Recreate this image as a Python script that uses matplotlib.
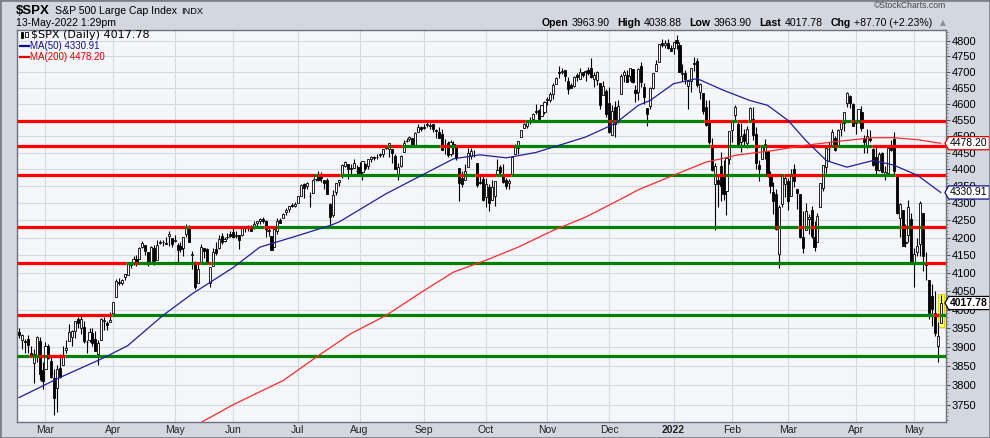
import matplotlib
matplotlib.use('Agg')
import matplotlib.pyplot as plt
import numpy as np
import pandas as pd
from matplotlib.path import Path
from matplotlib.patches import Rectangle
from matplotlib.lines import Line2D
from matplotlib.offsetbox import TextArea, HPacker, AnnotationBbox
from matplotlib.ticker import FixedLocator, NullFormatter, FuncFormatter

# daily OHLC for $SPX, 16-Feb-2021 .. 13-May-2022 (one row per month)
opens = [
    3939, 3918, 3915, 3921, 3885, 3857, 3873, 3915, 3839,
    3842, 3903, 3863, 3818, 3793, 3844, 3851, 3891, 3916, 3925, 3942, 3974, 3949, 3953, 3913, 3917, 3938, 3920, 3880, 3917, 3969, 3963, 3967,
    3992, 4034, 4075, 4074, 4090, 4096, 4124, 4130, 4141, 4140, 4174, 4179, 4159, 4128, 4170, 4138, 4185, 4188, 4185, 4206, 4199,
    4191, 4180, 4177, 4170, 4210, 4228, 4150, 4130, 4074, 4130, 4170, 4169, 4074, 4121, 4169, 4170, 4205, 4191, 4201, 4210,
    4216, 4206, 4207, 4207, 4229, 4234, 4233, 4229, 4243, 4249, 4255, 4249, 4220, 4204, 4173, 4219, 4250, 4256, 4274, 4284, 4293, 4290,
    4300, 4322, 4356, 4351, 4321, 4330, 4372, 4381, 4381, 4369, 4367, 4297, 4266, 4331, 4361, 4381, 4409, 4416, 4402, 4404, 4396,
    4407, 4392, 4416, 4408, 4429, 4438, 4435, 4442, 4446, 4464, 4461, 4462, 4441, 4382, 4410, 4451, 4484, 4490, 4493, 4474, 4513, 4529,
    4529, 4534, 4532, 4536, 4518, 4513, 4506, 4474, 4479, 4447, 4477, 4470, 4402, 4374, 4367, 4406, 4439, 4442, 4419, 4362, 4370,
    4317, 4348, 4310, 4320, 4383, 4406, 4385, 4368, 4358, 4386, 4447, 4464, 4497, 4524, 4532, 4547, 4553, 4578, 4580, 4562, 4573,
    4610, 4613, 4630, 4662, 4699, 4701, 4707, 4670, 4659, 4655, 4689, 4679, 4701, 4700, 4708, 4712, 4679, 4675, 4664, 4628, 4640,
    4602, 4504, 4589, 4548, 4631, 4690, 4691, 4688, 4711, 4643, 4636, 4719, 4653, 4588, 4594, 4650, 4703, 4733, 4795, 4788, 4795, 4776,
    4778, 4804, 4788, 4694, 4698, 4655, 4670, 4729, 4734, 4637, 4632, 4589, 4548, 4471, 4357, 4367, 4408, 4380, 4336, 4431,
    4519, 4566, 4536, 4482, 4505, 4480, 4547, 4553, 4506, 4412, 4429, 4455, 4456, 4385, 4332, 4325, 4155, 4298, 4355,
    4364, 4322, 4401, 4342, 4327, 4203, 4223, 4253, 4280, 4202, 4188, 4289, 4345, 4407, 4462, 4470, 4494, 4470, 4523, 4541, 4603, 4623, 4599,
    4540, 4547, 4573, 4495, 4474, 4494, 4462, 4437, 4398, 4449, 4386, 4390, 4473, 4490, 4385, 4256, 4279, 4187, 4207, 4254,
    4131, 4159, 4181, 4271, 4129, 4081, 4036, 3991, 3903, 3963.90,
]
highs = [
    3950, 3933, 3921, 3931, 3902, 3895, 3928, 3925, 3861,
    3914, 3907, 3874, 3843, 3851, 3881, 3903, 3918, 3960, 3944, 3969, 3981, 3984, 3970, 3919, 3949, 3949, 3943, 3919, 3978, 3981, 3968, 3994,
    4020, 4083, 4087, 4083, 4098, 4129, 4131, 4149, 4151, 4173, 4191, 4180, 4160, 4175, 4179, 4194, 4194, 4193, 4201, 4218, 4199,
    4209, 4186, 4187, 4202, 4238, 4237, 4163, 4135, 4131, 4183, 4171, 4170, 4117, 4172, 4188, 4209, 4214, 4203, 4213, 4219,
    4234, 4218, 4207, 4233, 4232, 4237, 4237, 4249, 4249, 4256, 4258, 4252, 4233, 4204, 4226, 4256, 4256, 4271, 4286, 4292, 4300, 4303,
    4320, 4355, 4358, 4362, 4331, 4372, 4387, 4394, 4393, 4369, 4375, 4301, 4337, 4360, 4369, 4415, 4423, 4416, 4416, 4429, 4412,
    4422, 4424, 4418, 4430, 4440, 4440, 4445, 4449, 4461, 4468, 4480, 4462, 4445, 4418, 4444, 4489, 4493, 4501, 4495, 4513, 4537, 4531,
    4537, 4545, 4541, 4536, 4521, 4529, 4521, 4492, 4485, 4487, 4486, 4471, 4403, 4394, 4416, 4465, 4463, 4457, 4419, 4385, 4382,
    4375, 4355, 4369, 4365, 4429, 4413, 4415, 4375, 4372, 4439, 4475, 4486, 4520, 4540, 4549, 4560, 4572, 4598, 4585, 4597, 4608,
    4621, 4636, 4664, 4684, 4718, 4714, 4708, 4685, 4664, 4688, 4698, 4714, 4701, 4708, 4717, 4744, 4699, 4702, 4664, 4672, 4647,
    4652, 4596, 4608, 4612, 4694, 4706, 4705, 4713, 4711, 4660, 4712, 4731, 4666, 4588, 4651, 4697, 4740, 4791, 4807, 4804, 4808, 4787,
    4797, 4819, 4797, 4726, 4708, 4674, 4714, 4749, 4745, 4666, 4632, 4612, 4611, 4495, 4418, 4379, 4453, 4428, 4432, 4516,
    4546, 4595, 4542, 4540, 4521, 4531, 4590, 4589, 4527, 4427, 4472, 4490, 4456, 4395, 4362, 4340, 4294, 4385, 4385,
    4375, 4401, 4416, 4342, 4327, 4277, 4299, 4268, 4292, 4247, 4272, 4358, 4412, 4465, 4481, 4522, 4501, 4521, 4546, 4575, 4637, 4628, 4603,
    4548, 4583, 4593, 4504, 4521, 4520, 4464, 4471, 4453, 4453, 4410, 4471, 4489, 4513, 4386, 4299, 4279, 4240, 4308, 4270,
    4170, 4200, 4307, 4271, 4158, 4082, 4069, 4050, 3965, 4038.88,
]
lows = [
    3923, 3895, 3885, 3884, 3874, 3805, 3860, 3814, 3790,
    3842, 3868, 3819, 3723, 3730, 3819, 3851, 3885, 3916, 3903, 3923, 3949, 3935, 3910, 3885, 3913, 3901, 3889, 3853, 3917, 3944, 3944, 3967,
    3992, 4034, 4068, 4068, 4082, 4095, 4114, 4124, 4120, 4139, 4170, 4150, 4119, 4126, 4123, 4138, 4182, 4176, 4181, 4176, 4174,
    4188, 4128, 4159, 4147, 4201, 4188, 4112, 4057, 4074, 4130, 4143, 4125, 4061, 4121, 4151, 4167, 4182, 4189, 4197, 4203,
    4198, 4199, 4167, 4206, 4215, 4219, 4218, 4225, 4233, 4238, 4242, 4203, 4204, 4165, 4173, 4211, 4241, 4256, 4266, 4274, 4287, 4287,
    4300, 4322, 4314, 4340, 4289, 4329, 4365, 4365, 4362, 4340, 4327, 4233, 4260, 4324, 4351, 4373, 4406, 4372, 4387, 4404, 4386,
    4381, 4368, 4398, 4400, 4422, 4426, 4430, 4436, 4436, 4460, 4437, 4418, 4400, 4368, 4406, 4451, 4482, 4486, 4468, 4473, 4513, 4515,
    4522, 4527, 4522, 4513, 4493, 4493, 4458, 4447, 4435, 4439, 4447, 4427, 4305, 4347, 4367, 4406, 4430, 4437, 4346, 4355, 4306,
    4288, 4278, 4310, 4290, 4383, 4385, 4360, 4342, 4341, 4386, 4447, 4447, 4496, 4524, 4526, 4538, 4544, 4569, 4551, 4562, 4567,
    4595, 4604, 4616, 4662, 4681, 4694, 4670, 4630, 4648, 4651, 4672, 4679, 4684, 4672, 4692, 4682, 4652, 4660, 4585, 4626, 4560,
    4510, 4504, 4496, 4540, 4631, 4667, 4667, 4671, 4666, 4606, 4612, 4651, 4600, 4531, 4583, 4645, 4703, 4733, 4780, 4778, 4775, 4766,
    4758, 4774, 4700, 4671, 4663, 4582, 4638, 4703, 4651, 4615, 4568, 4530, 4477, 4396, 4222, 4287, 4305, 4309, 4265, 4415,
    4483, 4545, 4470, 4451, 4471, 4465, 4547, 4489, 4401, 4365, 4429, 4430, 4377, 4328, 4267, 4223, 4114, 4287, 4318,
    4279, 4322, 4346, 4284, 4199, 4157, 4223, 4210, 4200, 4162, 4187, 4289, 4335, 4390, 4424, 4470, 4456, 4466, 4501, 4517, 4589, 4588, 4530,
    4507, 4539, 4514, 4450, 4450, 4482, 4408, 4381, 4395, 4391, 4368, 4390, 4455, 4384, 4267, 4201, 4175, 4173, 4188, 4131,
    4063, 4147, 4148, 4107, 4082, 3975, 3956, 3928, 3859, 3963.90,
]
closes = [
    3932, 3931, 3913, 3906, 3876, 3881, 3925, 3829, 3811,
    3901, 3870, 3820, 3768, 3842, 3821, 3875, 3898, 3939, 3943, 3969, 3963, 3974, 3915, 3913, 3940, 3911, 3889, 3910, 3974, 3971, 3959, 3973,
    4020, 4078, 4074, 4080, 4097, 4129, 4128, 4141, 4125, 4170, 4185, 4163, 4135, 4173, 4135, 4180, 4187, 4187, 4183, 4211, 4181,
    4192, 4165, 4168, 4201, 4232, 4189, 4153, 4063, 4113, 4174, 4163, 4128, 4116, 4159, 4156, 4197, 4188, 4196, 4201, 4204,
    4202, 4208, 4192, 4230, 4227, 4227, 4220, 4239, 4247, 4255, 4247, 4224, 4222, 4166, 4224, 4247, 4242, 4267, 4281, 4291, 4291, 4298,
    4320, 4352, 4344, 4358, 4320, 4369, 4385, 4369, 4374, 4360, 4327, 4258, 4323, 4359, 4368, 4412, 4422, 4401, 4400, 4419, 4395,
    4387, 4423, 4403, 4429, 4437, 4432, 4436, 4447, 4460, 4468, 4480, 4448, 4400, 4406, 4441, 4479, 4486, 4497, 4470, 4509, 4529, 4523,
    4524, 4537, 4535, 4521, 4514, 4493, 4458, 4469, 4443, 4481, 4473, 4433, 4358, 4355, 4396, 4449, 4455, 4443, 4353, 4360, 4308,
    4357, 4300, 4346, 4364, 4399, 4391, 4361, 4351, 4364, 4438, 4471, 4486, 4520, 4537, 4549, 4545, 4567, 4575, 4551, 4597, 4605,
    4614, 4631, 4660, 4680, 4697, 4702, 4686, 4647, 4650, 4683, 4683, 4701, 4689, 4704, 4698, 4683, 4691, 4701, 4595, 4655, 4567,
    4513, 4577, 4538, 4592, 4686, 4701, 4668, 4712, 4669, 4634, 4709, 4669, 4620, 4568, 4649, 4697, 4725, 4791, 4786, 4793, 4778, 4766,
    4797, 4794, 4701, 4696, 4677, 4670, 4713, 4726, 4660, 4663, 4577, 4533, 4483, 4398, 4410, 4357, 4350, 4327, 4432, 4516,
    4546, 4589, 4477, 4501, 4484, 4522, 4587, 4504, 4419, 4401, 4472, 4475, 4380, 4349, 4305, 4226, 4288, 4385, 4374,
    4306, 4387, 4364, 4329, 4201, 4171, 4278, 4260, 4204, 4173, 4262, 4358, 4412, 4463, 4461, 4512, 4457, 4520, 4543, 4575, 4632, 4603, 4530,
    4546, 4583, 4525, 4481, 4500, 4488, 4413, 4397, 4447, 4392, 4392, 4463, 4459, 4394, 4272, 4297, 4175, 4184, 4288, 4132,
    4155, 4175, 4300, 4147, 4123, 3991, 4001, 3936, 3930, 4017.78,
]
holidays = ['2021-04-02', '2021-05-31', '2021-07-05', '2021-09-06', '2021-11-25',
            '2021-12-24', '2022-01-17', '2022-02-21', '2022-04-15']

# moving averages
ma50_dates = ['2021-02-16', '2021-03-08', '2021-03-26', '2021-04-09', '2021-04-27', '2021-05-11',
              '2021-06-01', '2021-06-14', '2021-07-01', '2021-07-19', '2021-07-22', '2021-08-13',
              '2021-08-31', '2021-09-16', '2021-09-29', '2021-10-12', '2021-10-26', '2021-11-05',
              '2021-11-18', '2021-12-03', '2021-12-15', '2021-12-21', '2022-01-03', '2022-01-13',
              '2022-01-27', '2022-02-09', '2022-02-17', '2022-03-01', '2022-03-09', '2022-03-18',
              '2022-03-29', '2022-04-11', '2022-04-21', '2022-05-03', '2022-05-13']
ma50_vals = [3768, 3820, 3868, 3903, 3984, 4043, 4116, 4173, 4206, 4235, 4245, 4327, 4381, 4431,
             4443, 4434, 4450, 4472, 4497, 4538, 4595, 4610, 4663, 4679, 4642, 4610, 4595, 4548,
             4487, 4426, 4406, 4426, 4412, 4382, 4331]
ma200_dates = ['2021-05-14', '2021-06-01', '2021-06-24', '2021-07-13', '2021-07-28', '2021-08-13',
               '2021-08-31', '2021-09-16', '2021-10-01', '2021-10-18', '2021-11-03', '2021-11-18',
               '2021-12-06', '2021-12-15', '2022-01-03', '2022-01-19', '2022-02-03', '2022-02-22',
               '2022-03-09', '2022-03-24', '2022-04-11', '2022-04-21', '2022-05-03', '2022-05-13']
ma200_vals = [3705, 3750, 3812, 3877, 3935, 3984, 4047, 4103, 4136, 4173, 4221, 4259, 4307, 4339,
              4382, 4421, 4443, 4456, 4472, 4484, 4495, 4495, 4489, 4478]

# horizontal support / resistance levels
levels = [4545, 4470, 4382, 4232, 4128, 3985, 3877]
yticks = list(range(3750, 4801, 50))

dates = pd.bdate_range('2021-02-16', '2022-05-13', freq='C', holidays=holidays)
o, h, l, c = (np.array(a, float) for a in (opens, highs, lows, closes))
n = len(c)
assert len(dates) == n == len(o) == len(h) == len(l), (len(dates), len(o), len(h), len(l), n)
idx = np.arange(n)
X0, X1 = -0.7, n + 0.8

W, H = 990, 438
BG = '#d3d8e0'
fig = plt.figure(figsize=(W / 100, H / 100), dpi=100, facecolor=BG)
ax = fig.add_axes([17 / W, 1 - 422 / H, (946 - 17) / W, (422 - 30) / H])
ax.set_facecolor('#f5f6fa')

def fx(px):
    return px / W

def fy(py):
    return 1 - py / H

# candles
ax.add_patch(Rectangle((n - 1 - 0.95, 3953), 1.9, 4043 - 3953, fc='#ffff70', ec='#e6d000',
                       lw=0.8, zorder=3))
ax.vlines(idx, l, h, color='black', lw=0.8, zorder=4)
body = np.where(c - o == 0, 0.5, c - o)
ax.bar(idx, body, bottom=o, width=0.72, color=np.where(c > o, 'white', 'black'),
       edgecolor='black', linewidth=0.6, zorder=5)

# level lines: green while the close is above the level, red while below
for lv in levels:
    above = c >= lv
    start = 0
    for i in range(1, n + 1):
        if i == n or above[i] != above[start]:
            xa = X0 if start == 0 else start - 0.5
            xb = X1 if i == n else i - 0.5
            ax.plot([xa, xb], [lv, lv], color='#008000' if above[start] else '#ff0000',
                    lw=2.3, solid_capstyle='butt', zorder=6)
            start = i

# moving averages
pos50 = dates.searchsorted(pd.to_datetime(ma50_dates))
pos200 = dates.searchsorted(pd.to_datetime(ma200_dates))
ax.plot(pos50, ma50_vals, color='#1f1f99', lw=0.9, zorder=7)
ax.plot(pos200, ma200_vals, color='#ff2b2b', lw=0.9, zorder=7)

# axes
ax.set_yscale('log')
ax.set_ylim(3706, 4836)
ax.set_xlim(X0, X1)
ax.yaxis.set_major_locator(FixedLocator(yticks))
ax.yaxis.set_major_formatter(FuncFormatter(lambda v, p: f'{v:.0f}'))
ax.yaxis.set_minor_locator(FixedLocator(range(3710, 4836, 10)))
ax.yaxis.set_minor_formatter(NullFormatter())
ax.yaxis.tick_right()
ax.tick_params(axis='y', which='major', length=3, color='#555', labelsize=8, pad=1)
ax.tick_params(axis='y', which='minor', length=1.5, color='#777')
for t in ax.get_yticklabels():
    t.set_fontfamily('Liberation Sans')

month_start = [i for i in range(1, n) if dates[i].month != dates[i - 1].month]
mlabels = [str(dates[i].year) if dates[i].month == 1 else dates[i].strftime('%b') for i in month_start]
ax.set_xticks(month_start)
ax.set_xticklabels(mlabels, fontsize=7.5, family='Liberation Sans', color='#222')
for t in ax.get_xticklabels():
    if t.get_text() == '2022':
        t.set_fontweight('bold')
ax.tick_params(axis='x', length=0, pad=2.5)
ax.grid(True, which='major', color='#d6d9df', lw=0.8)
ax.set_axisbelow(True)
for s in ax.spines.values():
    s.set_color('#6e727a')
    s.set_linewidth(1)

# right-hand value tags
def tag_box(x0, y0, width, height, mutation_size):
    pad = 0.15 * mutation_size
    x0, y0 = x0 - pad, y0 - pad
    x1, y1 = x0 + width + 2 * pad, y0 + height + 2 * pad
    tip = 0.28 * (y1 - y0)
    return Path([(x0, y0), (x1, y0), (x1, y1), (x0, y1), (x0 - tip, (y0 + y1) / 2), (x0, y0)],
                closed=True)

for val, txt, col, wt in [(4478.20, '4478.20', '#e00000', 'normal'),
                          (4330.91, '4330.91', '#10108a', 'normal'),
                          (4017.78, '4017.78', 'black', 'bold')]:
    ax.annotate(txt, xy=(1, val), xycoords=ax.get_yaxis_transform(), xytext=(3, 0),
                textcoords='offset points', ha='left', va='center', fontsize=7.5,
                family='Liberation Sans', fontweight=wt, color='black', annotation_clip=False,
                bbox=dict(boxstyle=tag_box, fc='white', ec=col, lw=0.9), zorder=10)

# in-chart legend
fig.text(fx(31.5), fy(34.7), '$SPX (Daily) 4017.78', fontsize=8, family='DejaVu Sans',
         va='center', ha='left', color='black')
fig.add_artist(Rectangle((fx(20.5), fy(38)), fx(2.5), 6 / H, transform=fig.transFigure,
                         fc='black', ec='black', lw=0.6))
fig.add_artist(Rectangle((fx(25), fy(37)), fx(2.5), 5 / H, transform=fig.transFigure,
                         fc='white', ec='black', lw=0.6))
for py, txt, col in [(46, 'MA(50) 4330.91', '#10108a'), (57, 'MA(200) 4478.20', '#e00000')]:
    fig.add_artist(Line2D([fx(19.5), fx(28.5)], [fy(py), fy(py)], transform=fig.transFigure,
                          color=col, lw=1.6))
    fig.text(fx(29.5), fy(py), txt, fontsize=7, family='Liberation Sans', va='center',
             ha='left', color=col)

# header
title = HPacker(children=[
    TextArea('$SPX', textprops=dict(fontsize=9.5, fontweight='bold', family='Liberation Sans')),
    TextArea('S&P 500 Large Cap Index', textprops=dict(fontsize=7.6, family='Liberation Sans')),
    TextArea('INDX', textprops=dict(fontsize=6.7, family='Liberation Sans')),
], sep=3.5, pad=0, align='baseline')
fig.add_artist(AnnotationBbox(title, (fx(16), fy(11.5)), xycoords='figure fraction',
                              box_alignment=(0, 0.5), frameon=False, pad=0))
fig.text(fx(16), fy(23), '13-May-2022 1:29pm', fontsize=7.6, family='Liberation Sans',
         va='center', ha='left')
fig.text(fx(946), fy(6), '\u00a9StockCharts.com', fontsize=6.2, family='Liberation Sans',
         va='center', ha='right', color='#444')

quote = [('Open', '3963.90'), ('High', '4038.88'), ('Low', '3963.90'),
         ('Last', '4017.78'), ('Chg', '+87.70 (+2.23%)')]
pairs = [HPacker(children=[TextArea(k, textprops=dict(fontsize=7.6, fontweight='bold',
                                                       family='Liberation Sans')),
                           TextArea(v, textprops=dict(fontsize=7.6, family='Liberation Sans'))],
                 sep=2.5, pad=0, align='baseline') for k, v in quote]
pairs.append(TextArea('\u25b2', textprops=dict(fontsize=5.5, color='#8a8f98')))
hdr = HPacker(children=pairs, sep=5.5, pad=0, align='baseline')
fig.add_artist(AnnotationBbox(hdr, (fx(946), fy(22.5)), xycoords='figure fraction',
                              box_alignment=(1, 0.5), frameon=False, pad=0))

fig.add_artist(Rectangle((0, 0), 1, 1, transform=fig.transFigure, fill=False,
                         ec='#7c8089', lw=2))

fig.savefig('out.png', dpi=100, facecolor=BG)
